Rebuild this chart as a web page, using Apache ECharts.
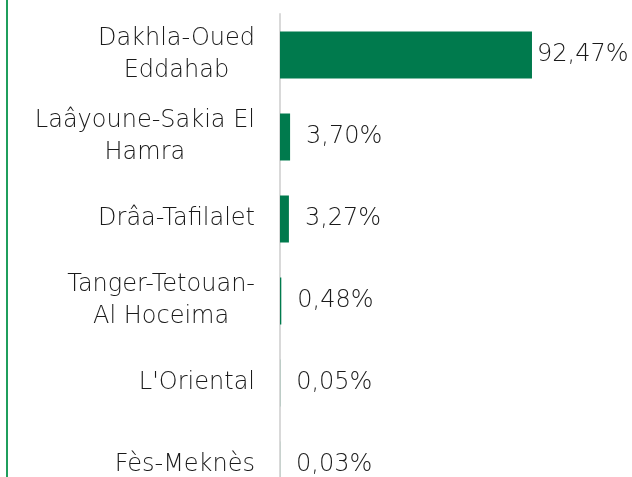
<!DOCTYPE html>
<html>
<head>
<meta charset="utf-8">
<script src="https://cdn.jsdelivr.net/npm/echarts@6/dist/echarts.min.js"></script>
<style>
  html, body { margin: 0; padding: 0; background: #fff; }
  #main { width: 632px; height: 477px; }
</style>
</head>
<body>
<div id="main"></div>
<script>
// regions (top to bottom) and their share in %
var regions = ['Dakhla-Oued\nEddahab', 'Laâyoune-Sakia El\nHamra', 'Drâa-Tafilalet',
  'Tanger-Tetouan-\nAl Hoceima', "L'Oriental", 'Fès-Meknès'];
var shares = [92.47, 3.70, 3.27, 0.48, 0.05, 0.03];

var FONT = 'DejaVu Sans';

var myChart = echarts.init(document.getElementById('main'));

var option = {
  animation: false,
  backgroundColor: '#fff',
  textStyle: { fontFamily: FONT },
  graphic: [
    {
      type: 'line',
      shape: { x1: 7, y1: 0, x2: 7, y2: 477 },
      style: { stroke: '#1f9e5c', lineWidth: 2 }
    }
  ],
  grid: { left: 280, top: 14, right: 79.5, bottom: -29, containLabel: false, outerBoundsMode: 'none' },
  xAxis: {
    type: 'value',
    min: 0,
    max: 100,
    show: false
  },
  yAxis: {
    type: 'category',
    data: regions,
    inverse: true,
    axisLine: { show: true, lineStyle: { color: '#d9d9d9', width: 2 } },
    axisTick: { show: false },
    axisLabel: {
      margin: 25,
      formatter: function (v) {
        return v.split('\n').map(function (s) { return '{c|' + s + '}'; }).join('\n');
      },
      rich: {
        c: { align: 'center', fontSize: 24, fontWeight: 200, lineHeight: 32, color: '#1a1a1a', fontFamily: FONT }
      }
    }
  },
  series: [
    {
      type: 'bar',
      barWidth: 47,
      itemStyle: { color: '#007a4d' },
      data: shares.map(function (v) {
        return { value: v, label: { distance: v > 50 ? 5 : 16 } };
      }),
      label: {
        show: true,
        position: 'right',
        fontSize: 24,
        fontWeight: 200,
        color: '#1a1a1a',
        fontFamily: FONT,
        formatter: function (p) {
          return p.value.toFixed(2).replace('.', ',') + '%';
        }
      }
    }
  ]
};

myChart.setOption(option);
</script>
</body>
</html>
